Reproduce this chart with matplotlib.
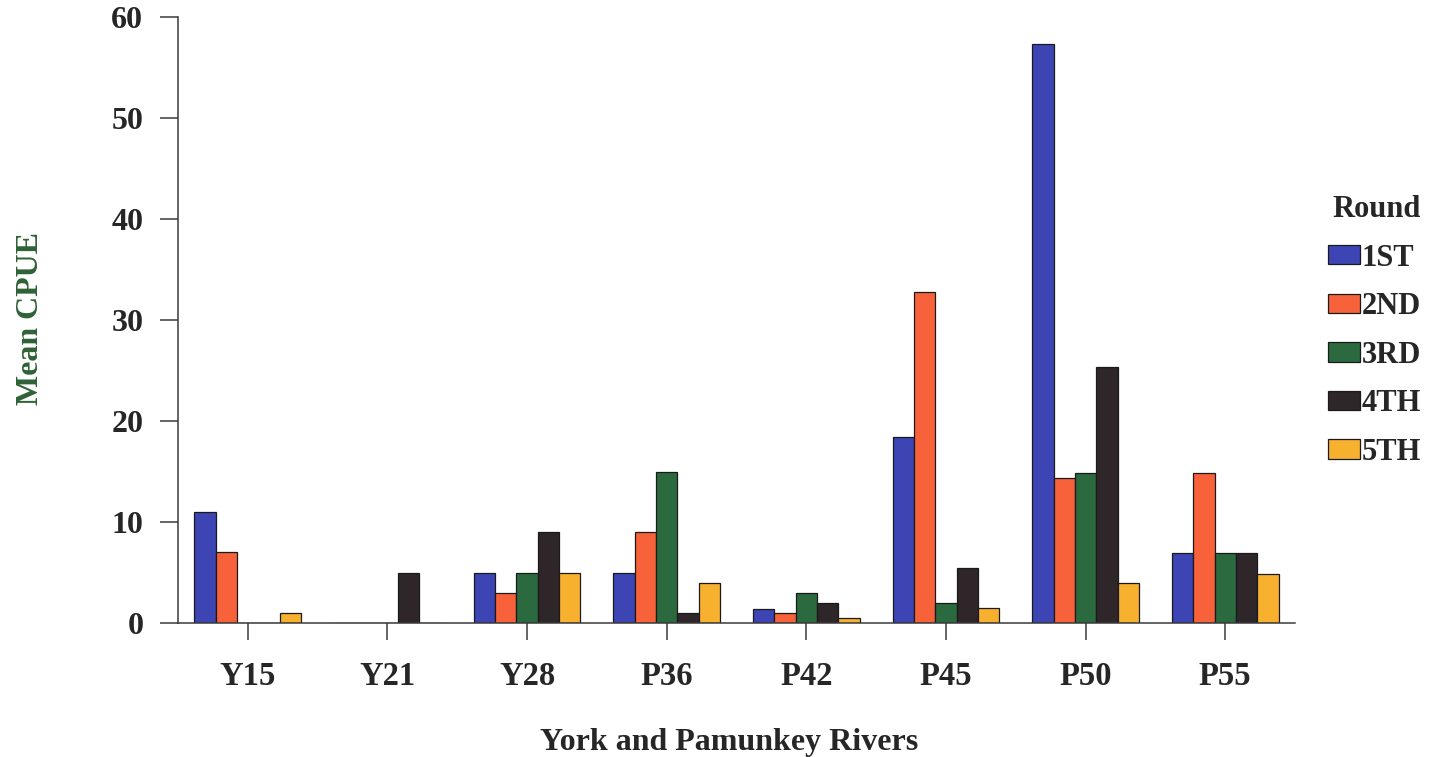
import matplotlib
matplotlib.use("Agg")
import matplotlib.pyplot as plt
import numpy as np

stations = ['Y15', 'Y21', 'Y28', 'P36', 'P42', 'P45', 'P50', 'P55']
rounds = ['1ST', '2ND', '3RD', '4TH', '5TH']
r1 = [11.0, 0.0, 5.0, 5.0, 1.4, 18.4, 57.3, 6.9]
r2 = [7.0, 0.0, 3.0, 9.0, 1.0, 32.8, 14.4, 14.9]
r3 = [0.0, 0.0, 5.0, 15.0, 3.0, 2.0, 14.9, 6.9]
r4 = [0.0, 5.0, 9.0, 1.0, 2.0, 5.4, 25.3, 6.9]
r5 = [1.0, 0.0, 5.0, 4.0, 0.5, 1.5, 4.0, 4.85]
series = [r1, r2, r3, r4, r5]
colors = ['#3d44b3', '#f8623a', '#2b6a3f', '#2e2628', '#f7b12f']
yticks = [0, 10, 20, 30, 40, 50, 60]

plt.rcParams['font.family'] = ['Liberation Serif', 'DejaVu Serif']
plt.rcParams['font.weight'] = 'bold'
txt = '#262626'
axc = '#3a3a3a'

fig = plt.figure(figsize=(14.41, 7.57), dpi=100)
ax = fig.add_axes([178/1441, 1 - 623/757, (1295-178)/1441, (623-17)/757])

x = np.arange(len(stations))
w = 0.153
for i, (vals, c, lab) in enumerate(zip(series, colors, rounds)):
    ax.bar(x + (i - 2) * w, vals, width=w, color=c, edgecolor='#1a1a1a',
           linewidth=0.9, label=lab, zorder=2)

ax.set_xlim(-0.5, 7.5)
ax.set_ylim(0, 60)
ax.set_xticks(x)
ax.set_xticklabels(stations)
ax.set_yticks(yticks)
ax.set_yticklabels([str(t) for t in yticks])
for s in ['top', 'right']:
    ax.spines[s].set_visible(False)
for s in ['left', 'bottom']:
    ax.spines[s].set_color(axc)
    ax.spines[s].set_linewidth(1.1)
ax.tick_params(axis='x', direction='out', length=12.5, width=1.1, color=axc,
               pad=15, labelsize=23.5, labelcolor=txt)
ax.tick_params(axis='y', direction='out', length=13, width=1.1, color=axc,
               pad=12, labelsize=23, labelcolor=txt)

ax.set_xlabel('York and Pamunkey Rivers', fontsize=23, fontweight='bold',
              color=txt)
ax.xaxis.set_label_coords(0.493, -0.173)
ax.set_ylabel('Mean CPUE', fontsize=23, fontweight='bold', color='#2f6136')
ax.yaxis.set_label_coords(-0.119, 0.503)

leg = fig.legend(loc='upper left', bbox_to_anchor=(1328/1441, 1 - 195/757),
                 frameon=False, fontsize=22, title='Round',
                 title_fontproperties={'weight': 'bold', 'size': 22},
                 handlelength=1.05, handleheight=0.6, handletextpad=0.05,
                 labelspacing=0.64, borderpad=0, borderaxespad=0,
                 alignment='right')
for t in leg.get_texts():
    t.set_color(txt)
leg.get_title().set_color(txt)

fig.savefig('out.png', dpi=100, facecolor='white')
